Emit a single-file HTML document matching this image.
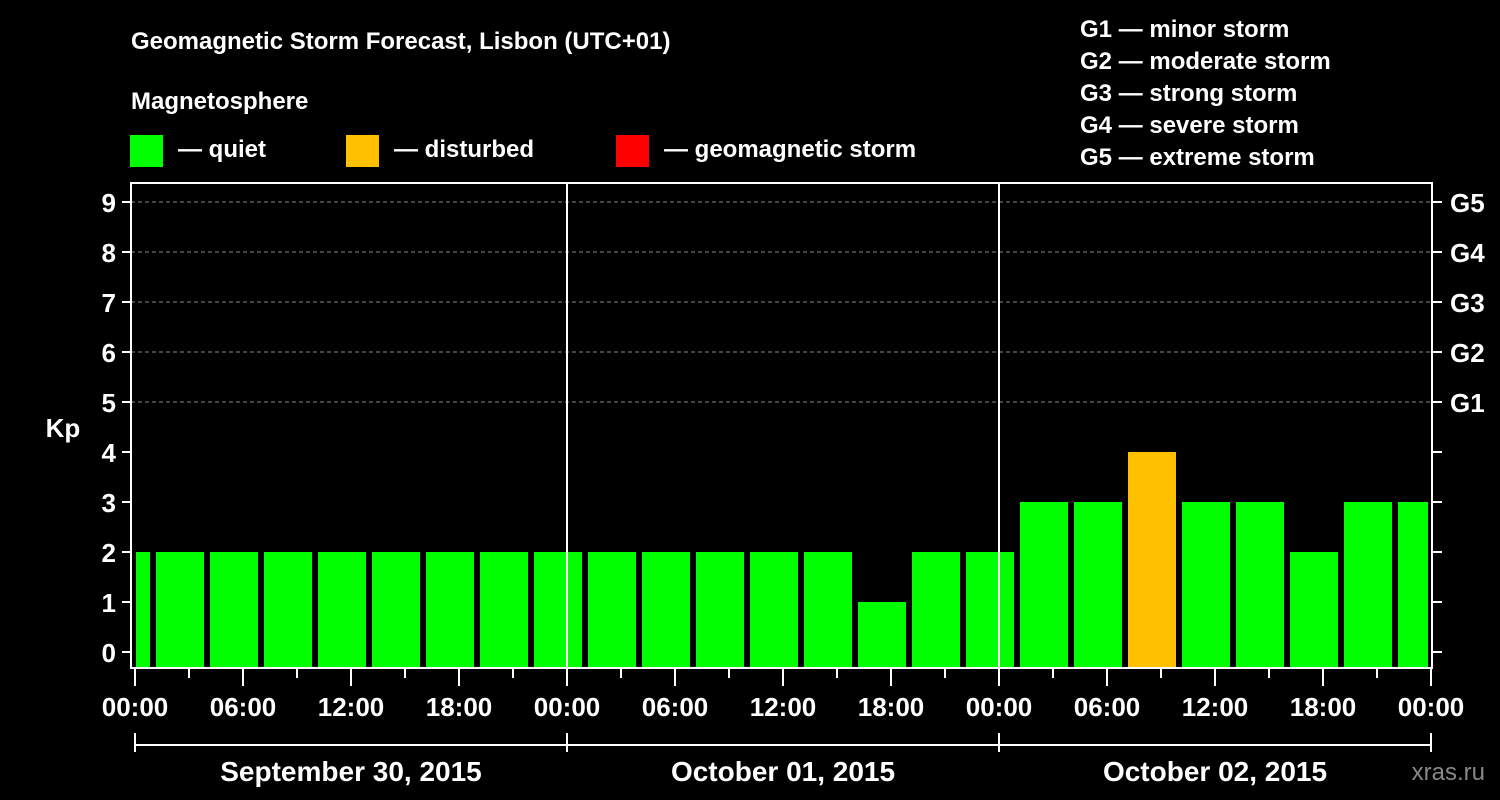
<!DOCTYPE html>
<html><head><meta charset="utf-8"><style>
html,body{margin:0;padding:0;background:#000;}
svg{display:block;font-family:"Liberation Sans",Arial,sans-serif;font-weight:bold;}
</style></head><body>
<svg id="chart" width="1500" height="800" viewBox="0 0 1500 800">
<rect width="1500" height="800" fill="#000"/>
<text x="131" y="49" fill="#fff" font-size="24">Geomagnetic Storm Forecast, Lisbon (UTC+01)</text>
<text x="131" y="109" fill="#fff" font-size="24">Magnetosphere</text>
<g><rect x="130" y="135" width="33" height="32" fill="#00ff00"/><text x="178" y="157" fill="#fff" font-size="24">— quiet</text></g>
<g><rect x="346" y="135" width="33" height="32" fill="#ffc000"/><text x="394" y="157" fill="#fff" font-size="24">— disturbed</text></g>
<g><rect x="616" y="135" width="33" height="32" fill="#ff0000"/><text x="664" y="157" fill="#fff" font-size="24">— geomagnetic storm</text></g>
<g fill="#fff" font-size="24">
<text x="1080" y="37">G1 — minor storm</text>
<text x="1080" y="69">G2 — moderate storm</text>
<text x="1080" y="101">G3 — strong storm</text>
<text x="1080" y="133">G4 — severe storm</text>
<text x="1080" y="165">G5 — extreme storm</text>
</g>
<text x="63" y="437" fill="#fff" font-size="26" text-anchor="middle">Kp</text>
<text x="1485" y="780" fill="#888" font-size="24" text-anchor="end" font-weight="normal">xras.ru</text>
<g id="grid"></g>
<g id="bars"></g>
<g id="axes"></g>
</svg>
<script>
const kpValues=[2, 2,2,2,2,2,2,2,2, 2,2,2,2,2,1,2,2, 3,3,4,3,3,2,3, 3];
const yTicks=[0,1,2,3,4,5,6,7,8,9];
const gLabels=["G1","G2","G3","G4","G5"];
const xTickLabels=["00:00","06:00","12:00","18:00","00:00","06:00","12:00","18:00","00:00","06:00","12:00","18:00","00:00"];
const dayLabels=["September 30, 2015","October 01, 2015","October 02, 2015"];
const firstBarHour=-0.5; // center of first bar (UTC+01 offset)

const NS="http://www.w3.org/2000/svg";
const X0=135, PXH=18, Y0=652, PXK=50, L=131, R=1432, T=183, B=668, CL=136, CR=1428;
const xs=h=>X0+h*PXH, ys=k=>Y0-k*PXK;
function mk(tag,attrs,parent,text){const e=document.createElementNS(NS,tag);for(const k in attrs)e.setAttribute(k,attrs[k]);if(text!==undefined)e.textContent=text;parent.appendChild(e);return e;}
const grid=document.getElementById('grid'),bars=document.getElementById('bars'),axes=document.getElementById('axes');
// gridlines for G levels
gLabels.forEach((g,i)=>{const y=ys(5+i);
 const l=mk('line',{x1:L,x2:R,y1:y,y2:y,stroke:'#888','stroke-width':1,'stroke-dasharray':'4,3'},grid);
 
 
 const t=mk('text',{x:1450,y:y+10,fill:'#fff','font-size':26},axes,g);
 
 
});
// bars
kpValues.forEach((v,i)=>{const c=xs(firstBarHour+3*i);let x1=Math.max(c-24,CL),x2=Math.min(c+24,CR);
 const r=mk('rect',{x:x1,y:ys(v),width:x2-x1,height:B-1-ys(v),fill:v>=5?'#ff0000':(v>=4?'#ffc000':'#00ff00')},bars);
 
 
});
// day separators
[1,2].forEach(d=>{const x=xs(24*d);const l=mk('line',{x1:x,x2:x,y1:T,y2:B,stroke:'#fff','stroke-width':2},axes);
 
 });
// frame
const f=mk('rect',{x:L,y:T,width:R-L,height:B-T,fill:'none',stroke:'#fff','stroke-width':2},axes);


// y ticks
yTicks.forEach(k=>{const y=ys(k);
 mk('line',{x1:122,x2:L,y1:y,y2:y,stroke:'#fff','stroke-width':2},axes);
 mk('line',{x1:R,x2:1442,y1:y,y2:y,stroke:'#fff','stroke-width':2},axes);
 const t=mk('text',{x:116,y:y+10,fill:'#fff','font-size':26,'text-anchor':'end'},axes,String(k));
 
 
});
// x ticks
for(let h=0;h<=72;h+=3){const x=xs(h);const major=h%6===0;
 mk('line',{x1:x,x2:x,y1:B,y2:major?B+18:B+10,stroke:'#fff','stroke-width':2},axes);}
xTickLabels.forEach((s,i)=>{const t=mk('text',{x:xs(6*i),y:716,fill:'#fff','font-size':26,'text-anchor':'middle'},axes,s);
 
 });
// date bracket
mk('line',{x1:xs(0),x2:xs(72),y1:745,y2:745,stroke:'#fff','stroke-width':2},axes);
for(let d=0;d<=3;d++)mk('line',{x1:xs(24*d),x2:xs(24*d),y1:733,y2:752,stroke:'#fff','stroke-width':2},axes);
dayLabels.forEach((s,i)=>{const t=mk('text',{x:xs(24*i+12),y:781,fill:'#fff','font-size':28,'text-anchor':'middle'},axes,s);
 
 });
</script>
</body></html>
